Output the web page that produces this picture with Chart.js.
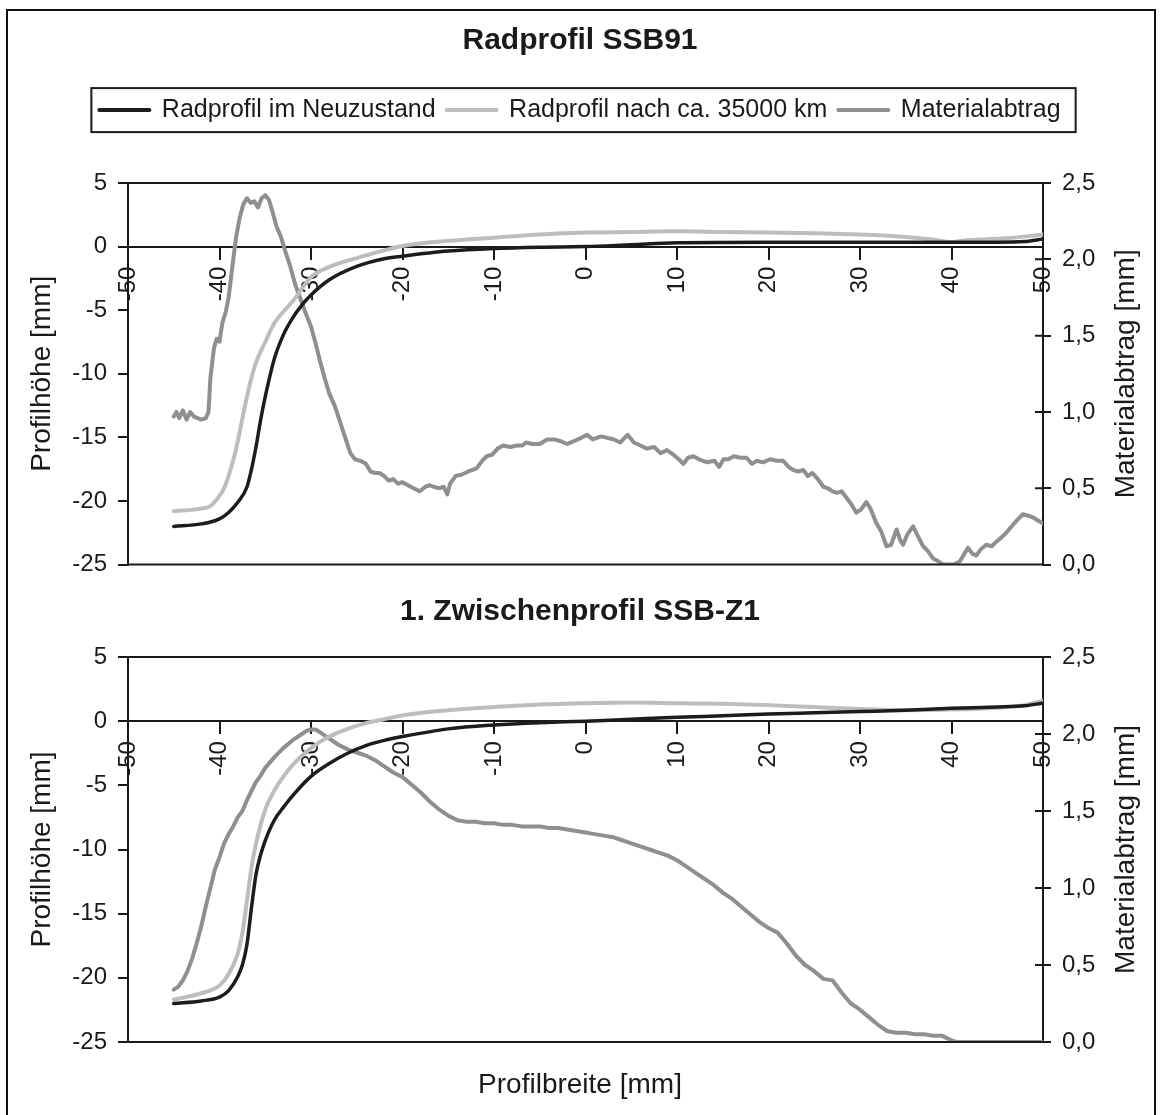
<!DOCTYPE html>
<html>
<head>
<meta charset="utf-8">
<script src="https://cdn.jsdelivr.net/npm/chart.js@4.4.1/dist/chart.umd.min.js"></script>
<style>
  html, body { margin: 0; padding: 0; background: #fff; }
  #wrap { position: relative; width: 1160px; height: 1115px; overflow: hidden; background: #fff; }
  canvas { position: absolute; left: 0; }
  #top { top: 0; }
  #bottom { top: 590px; }
  #frame { position: absolute; left: 6px; top: 9px; width: 1150px; height: 1130px; border: 2px solid #111; box-sizing: border-box; pointer-events: none; }
</style>
</head>
<body>
<div id="wrap">
  <canvas id="top" width="1160" height="590"></canvas>
  <canvas id="bottom" width="1160" height="525"></canvas>
  <div id="frame"></div>
</div>
<script>
// Radprofil SSB91 - upper panel
const xNeuTop = [-45, -42, -40, -39, -38, -37, -36.5, -36, -35.5, -35, -34, -33, -32, -31, -30, -28, -25, -22, -20, -15, -10, -5, 0, 5, 10, 20, 30, 40, 45, 48, 50];
const yNeuTop = [-22.0, -21.8, -21.4, -20.9, -20.1, -18.9, -17.5, -15.7, -13.6, -11.8, -8.8, -6.9, -5.6, -4.6, -3.8, -2.6, -1.55, -0.95, -0.75, -0.35, -0.15, -0.05, 0, 0.15, 0.3, 0.35, 0.35, 0.35, 0.35, 0.4, 0.6];

const xAltTop = [-45, -42, -41, -40, -39.5, -39, -38.5, -38, -37.5, -37, -36.5, -36, -35, -34, -33, -32, -30, -28, -25, -22, -20, -15, -10, -5, 0, 5, 10, 15, 20, 25, 30, 33, 36, 38, 40, 41, 43, 46, 50];
const yAltTop = [-20.8, -20.6, -20.4, -19.6, -19.0, -18.0, -16.8, -15.3, -13.5, -11.8, -10.3, -9.1, -7.5, -6.0, -5.1, -4.3, -2.4, -1.6, -0.9, -0.3, 0.05, 0.45, 0.7, 0.95, 1.1, 1.15, 1.2, 1.15, 1.1, 1.05, 0.95, 0.85, 0.7, 0.55, 0.35, 0.45, 0.55, 0.65, 0.95];

const xAbtragTop = [-45, -44.7, -44.4, -44, -43.6, -43.2, -42.8, -42.4, -42, -41.5, -41.2, -41, -40.6, -40.3, -40, -39.7, -39.3, -39, -38.6, -38.2, -37.8, -37.4, -37, -36.6, -36.2, -35.8, -35.4, -35, -34.6, -34.2, -33.8, -33.3, -32.8, -32.3, -31.7, -31.2, -30.6, -30, -29.5, -29, -28.5, -28, -27.4, -26.8, -26.2, -25.7, -25.2, -24.6, -24, -23.5, -23, -22.5, -22, -21.5, -21, -20.5, -20, -19.4, -18.8, -18.1, -17.5, -17, -16.6, -16, -15.5, -15.1, -14.8, -14.2, -13.5, -12.8, -11.9, -11.3, -10.8, -10.2, -9.6, -9, -8.2, -7.5, -6.9, -6.5, -5.8, -5, -4.2, -3.4, -2.8, -2, -1.2, -0.5, 0.2, 0.8, 1.7, 2.4, 3.1, 3.8, 4.6, 5.3, 6, 6.7, 7.5, 8.2, 8.9, 9.6, 10.2, 10.7, 11.2, 11.8, 12.4, 13.3, 14.1, 14.6, 15.1, 15.6, 16.2, 16.9, 17.6, 18.2, 18.7, 19.4, 20.2, 20.9, 21.6, 22.2, 22.7, 23.3, 23.8, 24.3, 24.8, 25.4, 26, 26.5, 27, 27.5, 28, 28.5, 29, 29.6, 30.1, 30.7, 31.2, 31.8, 32.3, 32.9, 33.4, 34, 34.4, 34.7, 35.2, 35.8, 36.3, 36.9, 37.4, 38, 38.6, 39.1, 39.6, 40.2, 40.9, 41.4, 41.8, 42.3, 42.7, 43.2, 43.8, 44.4, 44.9, 45.5, 46, 46.7, 47.3, 47.8, 48.4, 48.9, 49.4, 50];
const yAbtragTop = [0.97, 1.00, 0.96, 1.01, 0.95, 1.00, 0.97, 0.96, 0.95, 0.96, 1.00, 1.22, 1.42, 1.48, 1.46, 1.58, 1.66, 1.75, 1.95, 2.14, 2.27, 2.36, 2.40, 2.37, 2.38, 2.34, 2.40, 2.42, 2.39, 2.31, 2.22, 2.15, 2.05, 1.96, 1.83, 1.75, 1.65, 1.56, 1.45, 1.33, 1.22, 1.12, 1.04, 0.93, 0.82, 0.73, 0.69, 0.68, 0.66, 0.61, 0.60, 0.60, 0.58, 0.55, 0.56, 0.53, 0.54, 0.52, 0.50, 0.48, 0.51, 0.52, 0.51, 0.50, 0.51, 0.46, 0.53, 0.58, 0.59, 0.61, 0.63, 0.68, 0.71, 0.72, 0.76, 0.78, 0.77, 0.78, 0.78, 0.80, 0.79, 0.79, 0.82, 0.82, 0.81, 0.79, 0.81, 0.83, 0.85, 0.82, 0.84, 0.83, 0.82, 0.80, 0.85, 0.80, 0.78, 0.76, 0.77, 0.73, 0.75, 0.72, 0.69, 0.66, 0.70, 0.71, 0.69, 0.67, 0.68, 0.64, 0.69, 0.69, 0.71, 0.70, 0.70, 0.66, 0.68, 0.67, 0.69, 0.68, 0.68, 0.64, 0.62, 0.61, 0.62, 0.58, 0.60, 0.56, 0.51, 0.50, 0.48, 0.47, 0.48, 0.44, 0.40, 0.34, 0.36, 0.41, 0.36, 0.27, 0.22, 0.12, 0.13, 0.23, 0.16, 0.13, 0.20, 0.25, 0.19, 0.12, 0.09, 0.04, 0.02, 0.00, 0.00, 0.00, 0.02, 0.07, 0.11, 0.07, 0.06, 0.10, 0.13, 0.12, 0.15, 0.18, 0.21, 0.26, 0.30, 0.33, 0.32, 0.31, 0.29, 0.27];

// 1. Zwischenprofil SSB-Z1 - lower panel
const xNeuBottom = [-45, -42, -40, -39, -38, -37.5, -37, -36.5, -36, -35.5, -35, -34, -33, -32, -30, -28, -26, -24, -22, -20, -15, -10, -5, 0, 5, 10, 15, 20, 25, 30, 35, 40, 45, 48, 50];
const yNeuBottom = [-22.0, -21.8, -21.5, -21.0, -19.9, -19.0, -17.4, -14.5, -11.9, -10.4, -9.3, -7.7, -6.7, -5.8, -4.3, -3.3, -2.5, -1.9, -1.5, -1.2, -0.6, -0.3, -0.12, 0, 0.15, 0.3, 0.42, 0.55, 0.65, 0.75, 0.85, 1.0, 1.1, 1.2, 1.4];

const xAltBottom = [-45, -42, -40, -39, -38, -37.5, -37, -36.5, -36, -35, -34, -33, -32, -30, -28, -26, -24, -22, -20, -15, -10, -5, 0, 5, 10, 15, 20, 25, 30, 35, 40, 45, 48, 50];
const yAltBottom = [-21.7, -21.2, -20.6, -19.7, -18.1, -16.5, -14.0, -11.4, -9.5, -6.9, -5.4, -4.3, -3.4, -2.1, -1.2, -0.6, -0.15, 0.15, 0.45, 0.85, 1.1, 1.3, 1.4, 1.45, 1.4, 1.35, 1.25, 1.1, 0.95, 0.85, 0.9, 1.05, 1.25, 1.6];

const xAbtragBottom = [-45, -44.5, -44, -43.5, -43, -42.5, -42, -41.5, -41, -40.5, -40, -39.5, -39, -38.5, -38, -37.5, -37, -36.5, -36, -35.5, -35, -34, -33, -32, -31, -30.5, -30, -29.5, -29, -28, -27, -26, -25, -24, -23, -22, -21, -20, -19, -18, -17, -16, -15, -14, -13, -12, -11, -10, -9, -8, -7, -6, -5, -4, -3, -2, -1, 0, 1, 2, 3, 4, 5, 6, 7, 8, 9, 10, 11, 12, 13, 14, 15, 16, 17, 18, 19, 20, 21, 22, 23, 24, 25, 26, 27, 28, 29, 30, 31, 32, 33, 34, 35, 36, 37, 38, 39, 40, 40.5, 45, 50];
const yAbtragBottom = [0.34, 0.36, 0.40, 0.46, 0.54, 0.64, 0.75, 0.88, 1.00, 1.12, 1.20, 1.29, 1.35, 1.40, 1.46, 1.50, 1.57, 1.63, 1.69, 1.73, 1.78, 1.85, 1.91, 1.96, 2.00, 2.02, 2.03, 2.03, 2.01, 1.97, 1.93, 1.90, 1.88, 1.86, 1.83, 1.79, 1.75, 1.72, 1.67, 1.62, 1.56, 1.51, 1.47, 1.44, 1.43, 1.43, 1.42, 1.42, 1.41, 1.41, 1.40, 1.40, 1.40, 1.39, 1.39, 1.38, 1.37, 1.36, 1.35, 1.34, 1.33, 1.31, 1.29, 1.27, 1.25, 1.23, 1.21, 1.18, 1.14, 1.10, 1.06, 1.02, 0.97, 0.93, 0.88, 0.83, 0.78, 0.74, 0.71, 0.64, 0.56, 0.50, 0.46, 0.41, 0.40, 0.32, 0.25, 0.21, 0.16, 0.11, 0.07, 0.06, 0.06, 0.05, 0.05, 0.04, 0.04, 0.01, 0.00, 0.00, 0.00];

const seriesLabels = ['Radprofil im Neuzustand', 'Radprofil nach ca. 35000 km', 'Materialabtrag'];

const axisColor = '#1a1a1a';
const textColor = '#1a1a1a';
const cNeu = '#1c1c1c';
const cAlt = '#bcbdbf';
const cAbtrag = '#8e8f92';

Chart.defaults.font.family = "'Liberation Sans', Arial, sans-serif";
Chart.defaults.color = textColor;

const pts = (xs, ys) => xs.map((x, i) => ({ x, y: ys[i] }));
const comma = v => Number(v).toFixed(1).replace('.', ',');

// top/bottom frame of the plot area, inner half of the right ticks, right axis title
const panelDecor = {
    id: 'panelDecor',
    afterDraw(chart) {
        const { ctx, chartArea: a, scales } = chart;
        const y2 = scales.y2;
        ctx.save();
        ctx.strokeStyle = axisColor;
        ctx.lineWidth = 2;
        ctx.beginPath();
        ctx.moveTo(a.left, a.top); ctx.lineTo(a.right, a.top);
        ctx.moveTo(a.left, a.bottom); ctx.lineTo(a.right, a.bottom);
        y2.ticks.forEach(t => {
            const py = y2.getPixelForValue(t.value);
            ctx.moveTo(a.right - 8, py); ctx.lineTo(a.right, py);
        });
        ctx.stroke();
        ctx.translate(y2.right - 34, (a.top + a.bottom) / 2);
        ctx.rotate(-Math.PI / 2);
        ctx.font = "28px 'Liberation Sans', Arial, sans-serif";
        ctx.fillStyle = textColor;
        ctx.textAlign = 'center';
        ctx.textBaseline = 'middle';
        ctx.fillText('Materialabtrag [mm]', 0, 0);
        ctx.restore();
    }
};

// box round the legend
const legendFrame = {
    id: 'legendFrame',
    afterDraw(chart) {
        const boxes = chart.legend && chart.legend.legendHitBoxes;
        if (!chart.options.plugins.legend.display || !boxes || !boxes.length) return;
        const l = Math.min(...boxes.map(b => b.left)) - 8;
        const r = Math.max(...boxes.map(b => b.left + b.width)) + 15;
        const cy = boxes[0].top + boxes[0].height / 2;
        const { ctx } = chart;
        ctx.save();
        ctx.strokeStyle = axisColor;
        ctx.lineWidth = 2;
        ctx.strokeRect(l, cy - 22, r - l, 44);
        ctx.restore();
    }
};

function makePanel(id, neu, alt, abtrag, opts) {
    return new Chart(document.getElementById(id), {
        type: 'line',
        data: {
            datasets: [
                { label: seriesLabels[0], data: neu, borderColor: cNeu, borderWidth: 3.5, cubicInterpolationMode: 'monotone', yAxisID: 'y' },
                { label: seriesLabels[1], data: alt, borderColor: cAlt, borderWidth: 4, cubicInterpolationMode: 'monotone', yAxisID: 'y' },
                { label: seriesLabels[2], data: abtrag, borderColor: cAbtrag, borderWidth: 4, tension: 0, yAxisID: 'y2' }
            ]
        },
        options: {
            responsive: false,
            animation: false,
            events: [],
            layout: { padding: { left: 0, right: 0, top: 0, bottom: opts.padBottom } },
            elements: { point: { radius: 0 }, line: { borderJoinStyle: 'round', borderCapStyle: 'round' } },
            plugins: {
                title: { display: true, text: opts.title, color: textColor, font: { size: 30, weight: 'bold' }, padding: opts.titlePad },
                subtitle: opts.subtitle,
                legend: opts.legend,
                tooltip: { enabled: false }
            },
            scales: {
                x: {
                    type: 'linear', position: { y: 0 }, min: -50, max: 50,
                    ticks: { stepSize: 10, minRotation: 90, maxRotation: 90, autoSkip: false, padding: 8, font: { size: 24 }, color: textColor },
                    grid: { drawOnChartArea: false, tickLength: 12, color: axisColor, lineWidth: 2 },
                    border: { color: axisColor, width: 2 }
                },
                y: {
                    position: 'left', min: -25, max: 5,
                    ticks: { stepSize: 5, padding: 11, font: { size: 24 }, color: textColor },
                    grid: { drawOnChartArea: false, tickLength: 10, color: axisColor, lineWidth: 2 },
                    border: { color: axisColor, width: 2 },
                    title: { display: true, text: 'Profilhöhe [mm]', font: { size: 28 }, color: textColor, padding: { top: 25, bottom: 4 } },
                    afterFit: s => { s.width = 128; }
                },
                y2: {
                    position: 'right', min: 0, max: 2.5,
                    ticks: { stepSize: 0.5, padding: 11, font: { size: 24 }, color: textColor, callback: comma },
                    grid: { drawOnChartArea: false, tickLength: 8, color: axisColor, lineWidth: 2 },
                    border: { color: axisColor, width: 2 },
                    afterFit: s => { s.width = 117; }
                }
            }
        },
        plugins: [panelDecor, legendFrame]
    });
}

makePanel('top', pts(xNeuTop, yNeuTop), pts(xAltTop, yAltTop), pts(xAbtragTop, yAbtragTop), {
    title: 'Radprofil SSB91',
    titlePad: { top: 23, bottom: 27.6 },
    padBottom: 25,
    subtitle: { display: true, text: ' ', position: 'top', weight: 500, font: { size: 10 }, padding: { top: 0, bottom: 38.4 } },
    legend: {
        display: true, position: 'top',
        labels: {
            usePointStyle: true, pointStyleWidth: 50, padding: 11, font: { size: 25 }, color: textColor,
            generateLabels: chart => chart.data.datasets.map((ds, i) => ({
                text: ds.label, strokeStyle: ds.borderColor, fillStyle: ds.borderColor,
                lineWidth: 4, lineCap: 'round', pointStyle: 'line', hidden: false, datasetIndex: i, fontColor: textColor
            }))
        }
    }
});

makePanel('bottom', pts(xNeuBottom, yNeuBottom), pts(xAltBottom, yAltBottom), pts(xAbtragBottom, yAbtragBottom), {
    title: '1. Zwischenprofil SSB-Z1',
    titlePad: { top: 4, bottom: 27 },
    padBottom: 0,
    subtitle: { display: true, text: 'Profilbreite [mm]', position: 'bottom', color: textColor, font: { size: 28, weight: 'normal' }, padding: { top: 26, bottom: 13.4 } },
    legend: { display: false }
});
</script>
</body>
</html>
